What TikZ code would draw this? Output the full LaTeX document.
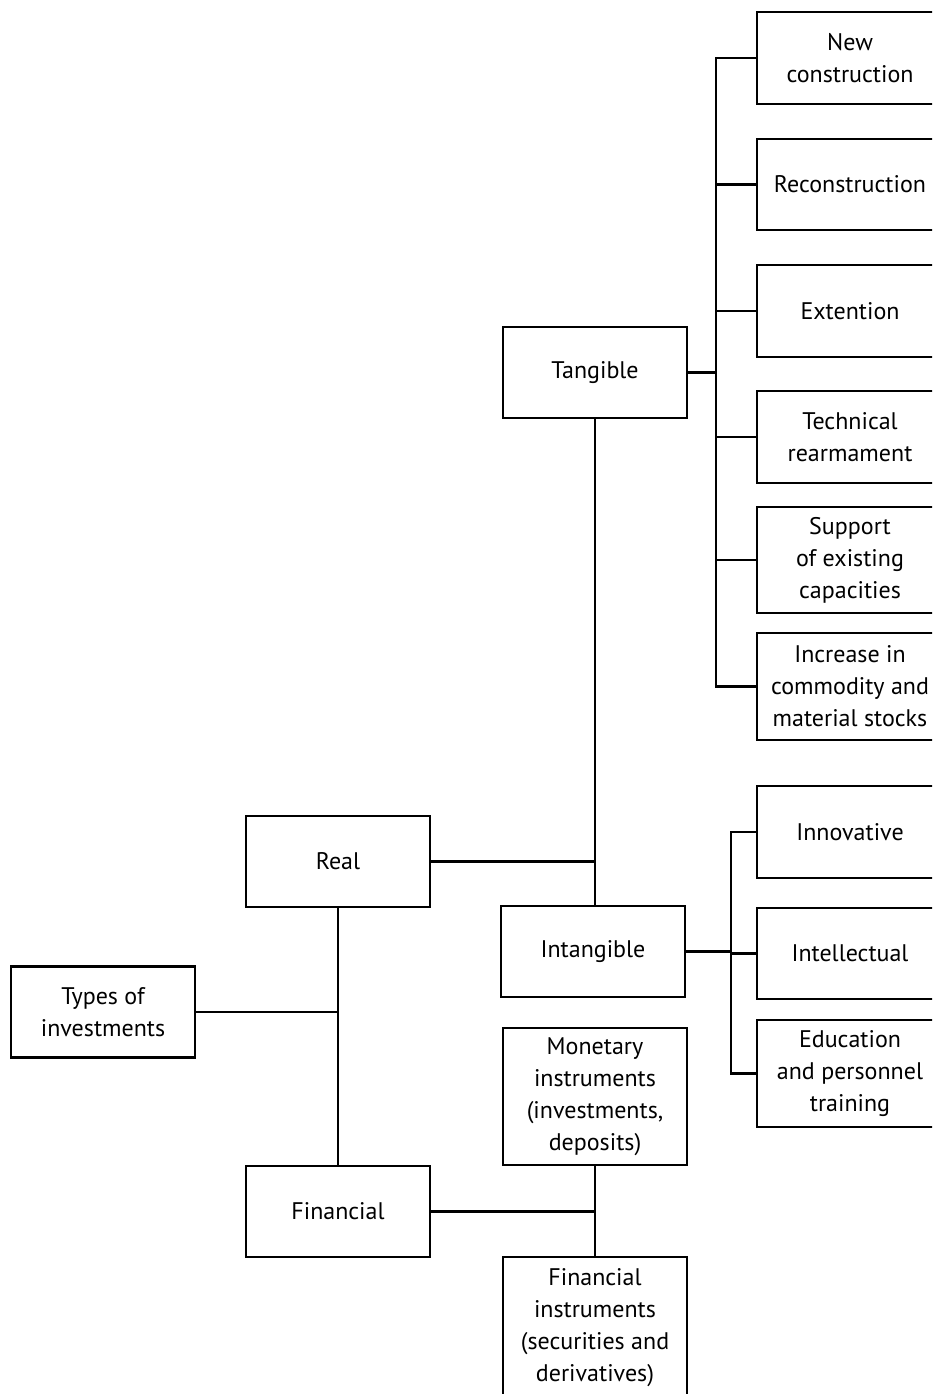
\documentclass[tikz,border=0pt]{standalone}
\usepackage{fontspec}
\setmainfont{PT Sans}
\begin{document}
\begin{tikzpicture}[x=1pt,y=-1pt,
	box/.style={draw,line width=2.8pt,minimum width=184pt,minimum height=91pt,
		align=center,inner sep=0pt,font=\fontsize{24}{32}\selectfont},
	wbox/.style={box,minimum width=186pt},
	link/.style={line width=2.8pt}]
	\clip (0,0) rectangle (932,1394);

	% left part
	\node[box](types) at (103,1012) {Types of\\investments};
	\node[box](real) at (338,861.5) {Real};
	\node[box](fin) at (338,1211.5) {Financial};

	% middle part
	\node[box](tang) at (595,372.5) {Tangible};
	\node[box](intang) at (593,951.5) {Intangible};
	\node[box,minimum height=137pt](mon) at (595,1096.5) {Monetary\\instruments\\(investments,\\deposits)};
	\node[box,minimum height=142pt](finin) at (595,1328) {Financial\\instruments\\(securities and\\derivatives)};

	% right part
	\node[wbox,minimum height=92pt](nc) at (850,58) {New\\construction};
	\node[wbox](rec) at (850,184.5) {Reconstruction};
	\node[wbox,minimum height=92pt](ext) at (850,311) {Extention};
	\node[wbox,minimum height=92pt](tech) at (850,437) {Technical\\rearmament};
	\node[wbox,minimum height=106pt](sup) at (850,560) {Support\\of existing\\capacities};
	\node[wbox,minimum height=107pt](inc) at (850,686.5) {Increase in\\commodity and\\material stocks};
	\node[wbox,minimum height=92pt](inn) at (850,832) {Innovative};
	\node[wbox](intel) at (850,953.5) {Intellectual};
	\node[wbox,minimum height=107pt](edu) at (850,1073.5) {Education\\and personnel\\training};

	\coordinate(tbus) at (716,372.5);
	\coordinate(ibus) at (731,951.5);

	\draw[link](real.south) -- (fin.north);
	\draw[link](types.east) -- (types.east -| real.south);
	\draw[link](tang.south) -- (tang.south |- intang.north);
	\draw[link](real.east) -- (real.east -| tang.south);
	\draw[link](mon.south) -- (finin.north);
	\draw[link](fin.east) -- (fin.east -| mon.south);

	\draw[link](tang.east) -- (tbus);
	\foreach \n in {nc,rec,ext,tech,sup,inc}
		\draw[link](tbus) |- (\n.west);
	\draw[link](intang.east) -- (ibus);
	\foreach \n in {inn,intel,edu}
		\draw[link](ibus) |- (\n.west);
\end{tikzpicture}
\end{document}
